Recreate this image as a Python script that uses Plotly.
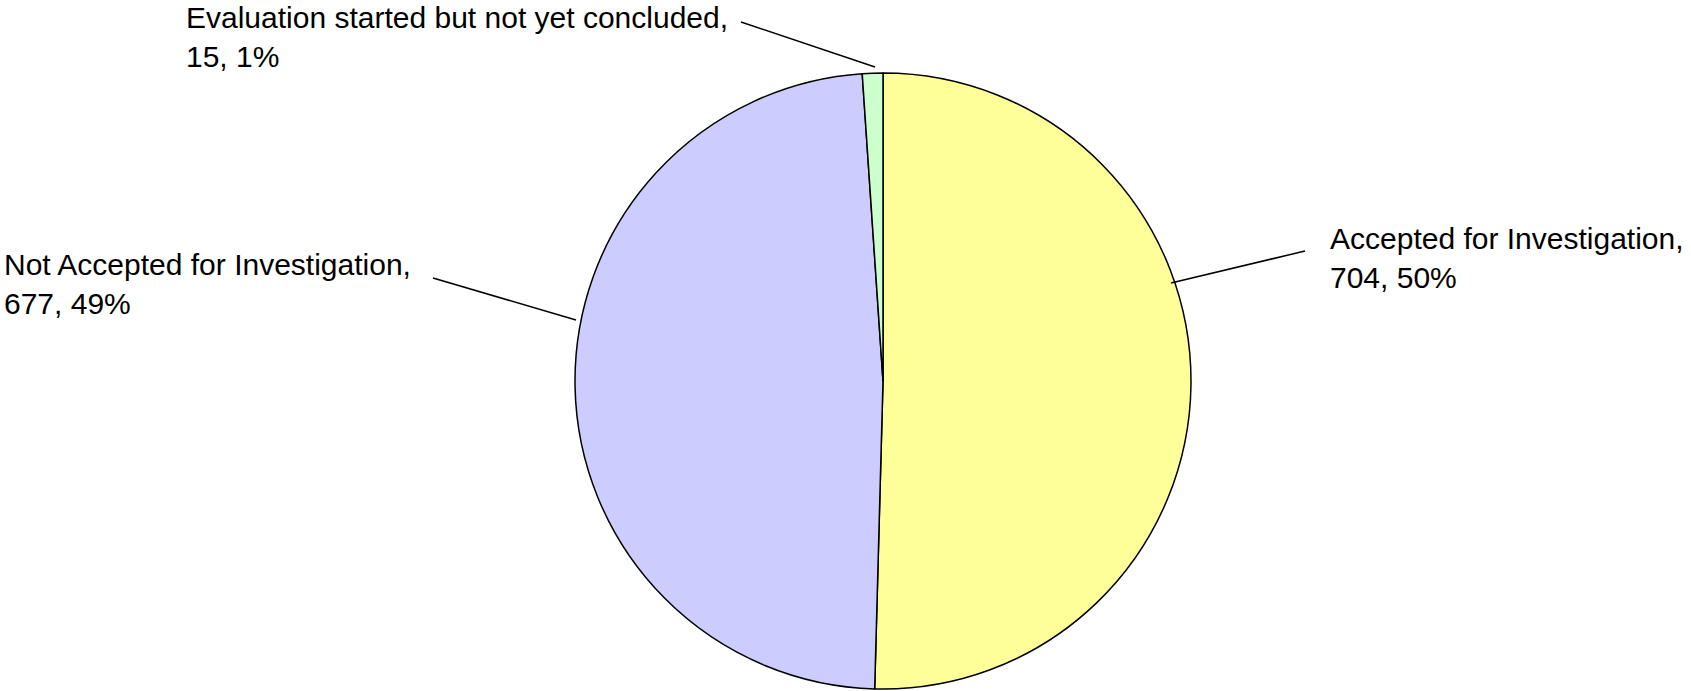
import plotly.graph_objects as go

categories = ["Accepted for Investigation", "Not Accepted for Investigation",
              "Evaluation started but not yet concluded"]
values = [704, 677, 15]
percents = ["50%", "49%", "1%"]
colors = ["#FFFF99", "#CCCCFF", "#CCFFCC"]

W, H = 1691, 691
cx, cy, r = 883, 381, 308

fig = go.Figure(go.Pie(
    labels=categories, values=values, sort=False, direction="clockwise",
    rotation=0, textinfo="none", hoverinfo="label+value+percent",
    marker=dict(colors=colors, line=dict(color="black", width=1.5)),
    domain=dict(x=[(cx - r) / W, (cx + r) / W],
                y=[(H - cy - r) / H, (H - cy + r) / H]),
    showlegend=False,
))

# label layout: (text left x, first-line center y, leader start, leader end) in pixels
label_layout = {
    "Accepted for Investigation": (1328, 239, (1305, 251), (1171, 283)),
    "Not Accepted for Investigation": (2, 265, (433, 278), (576, 320)),
    "Evaluation started but not yet concluded": (184, 18, (741, 22), (875, 67)),
}

font = dict(family="Liberation Sans, Arial, sans-serif", size=30, color="black")
anns, shapes = [], []
for cat, val, pct in zip(categories, values, percents):
    lx, ly, p0, p1 = label_layout[cat]
    anns.append(dict(
        text=f"{cat},<br>{val}, {pct}", x=lx / W, y=1 - (ly - 19) / H,
        xref="paper", yref="paper", xanchor="left", yanchor="top",
        showarrow=False, align="left", font=font,
    ))
    shapes.append(dict(type="line", xref="paper", yref="paper",
                       x0=p0[0] / W, y0=1 - p0[1] / H, x1=p1[0] / W, y1=1 - p1[1] / H,
                       line=dict(color="black", width=1.5)))

fig.update_layout(
    width=W, height=H, margin=dict(l=0, r=0, t=0, b=0),
    paper_bgcolor="white", plot_bgcolor="white",
    annotations=anns, shapes=shapes,
)
fig.write_html("out.html")
